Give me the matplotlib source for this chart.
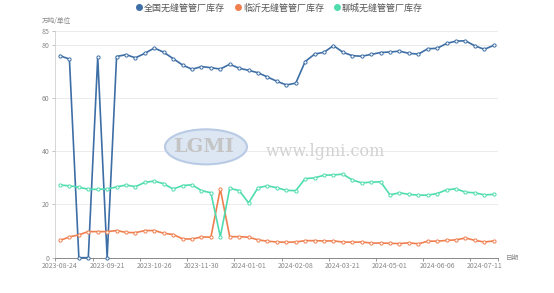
import matplotlib
matplotlib.use("Agg")
import matplotlib.pyplot as plt
from matplotlib.patches import Ellipse
from matplotlib.lines import Line2D

plt.rcParams['font.family'] = ['Noto Sans CJK SC', 'DejaVu Sans']

# weekly inventory, 10k tons
national = [75.9, 74.6, 0, 0, 75.3, 0, 75.6, 76.3, 75.1, 76.8,
            78.8, 77.2, 74.8, 72.4, 70.8, 71.8, 71.4, 70.9, 72.7, 71.2,
            70.4, 69.5, 67.9, 66.3, 64.9, 65.6, 73.7, 76.5, 77.2, 79.7,
            77.2, 75.9, 75.7, 76.4, 77.1, 77.3, 77.6, 76.8, 76.5, 78.5,
            78.7, 80.5, 81.4, 81.5, 79.6, 78.3, 79.8]
linyi = [6.5, 7.8, 8.6, 9.8, 9.8, 9.8, 10.2, 9.5, 9.4, 10.2,
         10.2, 9.2, 8.7, 7.1, 7.0, 7.8, 7.7, 25.8, 7.9, 7.9,
         7.7, 6.7, 6.2, 5.9, 5.8, 5.9, 6.4, 6.4, 6.3, 6.3,
         5.9, 5.8, 5.9, 5.5, 5.5, 5.4, 5.3, 5.6, 5.2, 6.2,
         6.2, 6.5, 6.7, 7.4, 6.5, 5.9, 6.3]
liaocheng = [27.3, 27.0, 26.5, 25.7, 25.7, 25.8, 26.6, 27.3, 26.7, 28.3,
             28.8, 27.8, 25.8, 27.1, 27.4, 25.2, 24.4, 7.9, 26.1, 25.2,
             20.6, 26.3, 27.0, 26.3, 25.3, 25.2, 29.7, 30.0, 31.0, 31.1,
             31.4, 29.2, 28.1, 28.4, 28.5, 23.6, 24.4, 23.8, 23.5, 23.5,
             24.1, 25.5, 25.9, 24.6, 24.4, 23.6, 23.8]
date_labels = ["2023-08-24", "2023-09-21", "2023-10-26", "2023-11-30", "2024-01-01",
               "2024-02-08", "2024-03-21", "2024-05-01", "2024-06-06", "2024-07-11"]
series_names = ["全国无缝管管厂库存", "临沂无缝管管厂库存", "聊城无缝管管厂库存"]
colors = ["#3d6ea6", "#f07f4f", "#4fdcaf"]

fig = plt.figure(figsize=(5.54, 2.93), dpi=100)
ax = fig.add_axes([0.0998, 0.1205, 0.800, 0.772])

n = len(national)
xs = list(range(n))
ax.set_xlim(-0.5, n - 0.5)
ax.set_ylim(0, 85)

# grid
for yv in [20, 40, 60, 80, 85]:
    ax.axhline(yv, color="#ebebeb", lw=0.7, zorder=0)

# watermark
ell = Ellipse((0.34, 0.49), 0.185, 0.155, transform=ax.transAxes,
              facecolor="#dde6f3", edgecolor="#b9cbe4", lw=1.5, zorder=1)
ax.add_patch(ell)
ax.text(0.335, 0.49, "LGMI", transform=ax.transAxes, ha="center", va="center",
        fontsize=14, color="#c4c4c4", fontweight="bold", family="DejaVu Serif",
        zorder=1)
ax.text(0.61, 0.47, "www.lgmi.com", transform=ax.transAxes, ha="center",
        va="center", fontsize=11.5, color="#d2d2d2", family="DejaVu Serif", zorder=1)

for vals, c in zip([national, linyi, liaocheng], colors):
    ax.plot(xs, vals, color=c, lw=1.2, marker="o", ms=2.3, mfc="white",
            mec=c, mew=0.7, zorder=3, clip_on=False)

# axes styling
for s in ["top", "right"]:
    ax.spines[s].set_visible(False)
ax.spines["left"].set_color("#d0d0d0")
ax.spines["left"].set_linewidth(0.6)
ax.spines["bottom"].set_color("#888888")
ax.spines["bottom"].set_linewidth(0.7)

ax.set_yticks([0, 20, 40, 60, 80, 85])
ax.set_yticklabels(["0", "20", "40", "60", "80", "85"])
ax.tick_params(axis="y", length=2, width=0.5, color="#aaaaaa", pad=2,
               labelsize=5, labelcolor="#888888")

ax.set_xticks([-0.5] + [3.5 + 5 * k for k in range(9)] + [n - 0.5])
ax.set_xticklabels([])
ax.set_xticks(list(range(0, n, 5)), minor=True)
ax.set_xticklabels(date_labels, minor=True)
ax.tick_params(axis="x", which="major", length=2.5, width=0.6, color="#888888")
ax.tick_params(axis="x", which="minor", length=0, pad=3, labelsize=5,
               labelcolor="#888888")

fig.text(0.076, 0.928, "万吨/单位", fontsize=4.8, color="#888888", ha="left", va="center")
fig.text(0.913, 0.12, "日期", fontsize=4.8, color="#888888", ha="left", va="center")

handles = [Line2D([0], [0], marker="o", color="w", markerfacecolor=c,
                  markeredgecolor=c, markersize=4, label=lab)
           for c, lab in zip(colors, series_names)]
fig.legend(handles=handles, loc="center", bbox_to_anchor=(0.503, 0.973), ncol=3,
           frameon=False, fontsize=6.5, handletextpad=0.1, columnspacing=0.9,
           handlelength=1.0, labelcolor="#555555")

fig.savefig("out.png", dpi=100)
